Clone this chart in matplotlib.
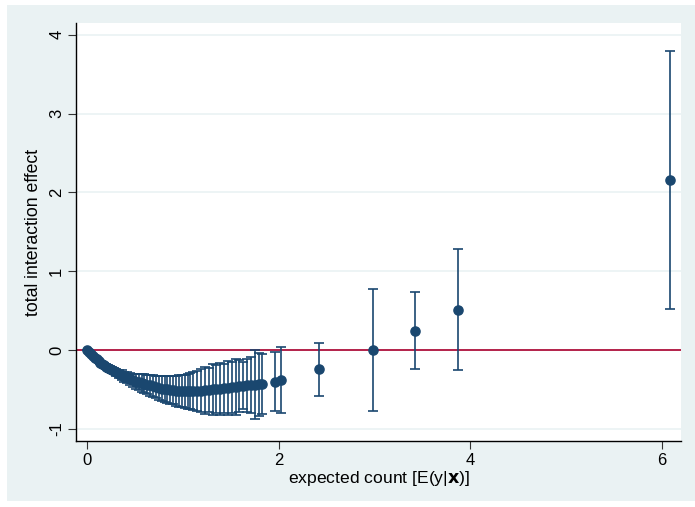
import matplotlib
matplotlib.use("Agg")
import matplotlib.pyplot as plt
from matplotlib.patches import Rectangle

plt.rcParams['font.family'] = ['Liberation Sans', 'DejaVu Sans']

# expected count E(y|x)
exp_count = [0.00, 0.02, 0.04, 0.06, 0.08, 0.10, 0.12, 0.14, 0.16, 0.18,
             0.20, 0.22, 0.24, 0.26, 0.28, 0.30, 0.33, 0.36, 0.39, 0.42,
             0.45, 0.48, 0.51, 0.54, 0.57, 0.60, 0.63, 0.66, 0.69, 0.72,
             0.75, 0.78, 0.81, 0.84, 0.87, 0.90, 0.93, 0.96, 0.99, 1.02,
             1.05, 1.08, 1.11, 1.15, 1.19, 1.23, 1.27, 1.31, 1.35, 1.39,
             1.43, 1.47, 1.51, 1.55, 1.59, 1.63, 1.67, 1.71, 1.75, 1.79,
             1.83, 1.96, 2.03, 2.42, 2.98, 3.42, 3.87, 6.085]

# total interaction effect
effect = [0.00, -0.03, -0.055, -0.08, -0.10, -0.12, -0.14, -0.16, -0.18, -0.195,
          -0.21, -0.225, -0.24, -0.255, -0.27, -0.285, -0.30, -0.32, -0.34, -0.355,
          -0.37, -0.385, -0.40, -0.41, -0.42, -0.43, -0.44, -0.45, -0.46, -0.47,
          -0.48, -0.49, -0.495, -0.50, -0.505, -0.51, -0.515, -0.52, -0.52, -0.525,
          -0.525, -0.525, -0.52, -0.52, -0.515, -0.51, -0.505, -0.50, -0.495, -0.49,
          -0.485, -0.48, -0.475, -0.47, -0.46, -0.455, -0.45, -0.445, -0.44, -0.435,
          -0.43, -0.40, -0.385, -0.237, 0.00, 0.245, 0.508, 2.157]

# lower confidence bound
ci_lo = [0.00, -0.03, -0.065, -0.09, -0.11, -0.135, -0.155, -0.18, -0.20, -0.22,
         -0.24, -0.255, -0.275, -0.295, -0.31, -0.33, -0.35, -0.38, -0.405, -0.425,
         -0.45, -0.47, -0.49, -0.51, -0.53, -0.55, -0.56, -0.58, -0.60, -0.61,
         -0.63, -0.65, -0.655, -0.67, -0.685, -0.69, -0.705, -0.72, -0.72, -0.735,
         -0.745, -0.755, -0.76, -0.77, -0.785, -0.81, -0.785, -0.82, -0.795, -0.82,
         -0.795, -0.82, -0.795, -0.82, -0.79, -0.755, -0.79, -0.805, -0.88, -0.835,
         -0.81, -0.77, -0.80, -0.58, -0.774, -0.245, -0.26, 0.52]

# upper confidence bound
ci_hi = [0.00, -0.03, -0.045, -0.07, -0.09, -0.105, -0.125, -0.14, -0.16, -0.17,
         -0.18, -0.195, -0.205, -0.215, -0.23, -0.24, -0.25, -0.26, -0.275, -0.285,
         -0.29, -0.30, -0.31, -0.31, -0.31, -0.31, -0.32, -0.32, -0.32, -0.33,
         -0.33, -0.33, -0.335, -0.33, -0.325, -0.33, -0.325, -0.32, -0.32, -0.315,
         -0.305, -0.295, -0.28, -0.27, -0.245, -0.21, -0.225, -0.18, -0.195, -0.16,
         -0.175, -0.14, -0.155, -0.12, -0.13, -0.155, -0.11, -0.085, 0.00, -0.035,
         -0.05, -0.03, 0.04, 0.093, 0.774, 0.74, 1.28, 3.79]

x_ticks = [0, 2, 4, 6]
y_ticks = [-1, 0, 1, 2, 3, 4]

navy = '#1a476f'
bg = '#eaf2f3'

fig = plt.figure(figsize=(6.95, 5.07), dpi=100)
fig.patch.set_facecolor('white')
fig.add_artist(Rectangle((7 / 695, 6 / 507), 688 / 695, 496 / 507,
                         transform=fig.transFigure, facecolor=bg,
                         edgecolor='none', zorder=-10))

ax = fig.add_axes([76 / 695, 1 - 441 / 507, (681 - 76) / 695, (441 - 23) / 507])
ax.set_zorder(5)
ax.set_facecolor('white')

ax.set_xlim(-0.115, 6.2)
ax.set_ylim(-1.155, 4.15)

for yt in y_ticks:
    ax.axhline(yt, color=bg, lw=1.2, zorder=0.5)

ax.axhline(0, color='#b0123c', lw=1.3, zorder=1)

err_lo = [e - l for e, l in zip(effect, ci_lo)]
err_hi = [h - e for e, h in zip(effect, ci_hi)]
ax.errorbar(exp_count, effect, yerr=[err_lo, err_hi], fmt='o', color=navy,
            ecolor=navy, markersize=6.6, elinewidth=1.2, capsize=3.3,
            capthick=1.2, zorder=3)

ax.set_xticks(x_ticks)
ax.set_yticks(y_ticks)
ax.set_xticklabels([str(t) for t in x_ticks], fontsize=12)
ax.set_yticklabels([str(t) for t in y_ticks], fontsize=12, rotation=90, va='center')
ax.tick_params(direction='out', length=5.5, width=0.8, color='#333333', pad=3)

for s in ['top', 'right']:
    ax.spines[s].set_visible(False)
for s in ['left', 'bottom']:
    ax.spines[s].set_linewidth(1.0)
    ax.spines[s].set_color('black')

ax.set_ylabel('total interaction effect', fontsize=12.7, labelpad=5)
ax.set_xlabel(r'expected count [E(y|$\mathbf{x}$)]', fontsize=12.6, labelpad=1)

fig.savefig('out.png', dpi=100)
